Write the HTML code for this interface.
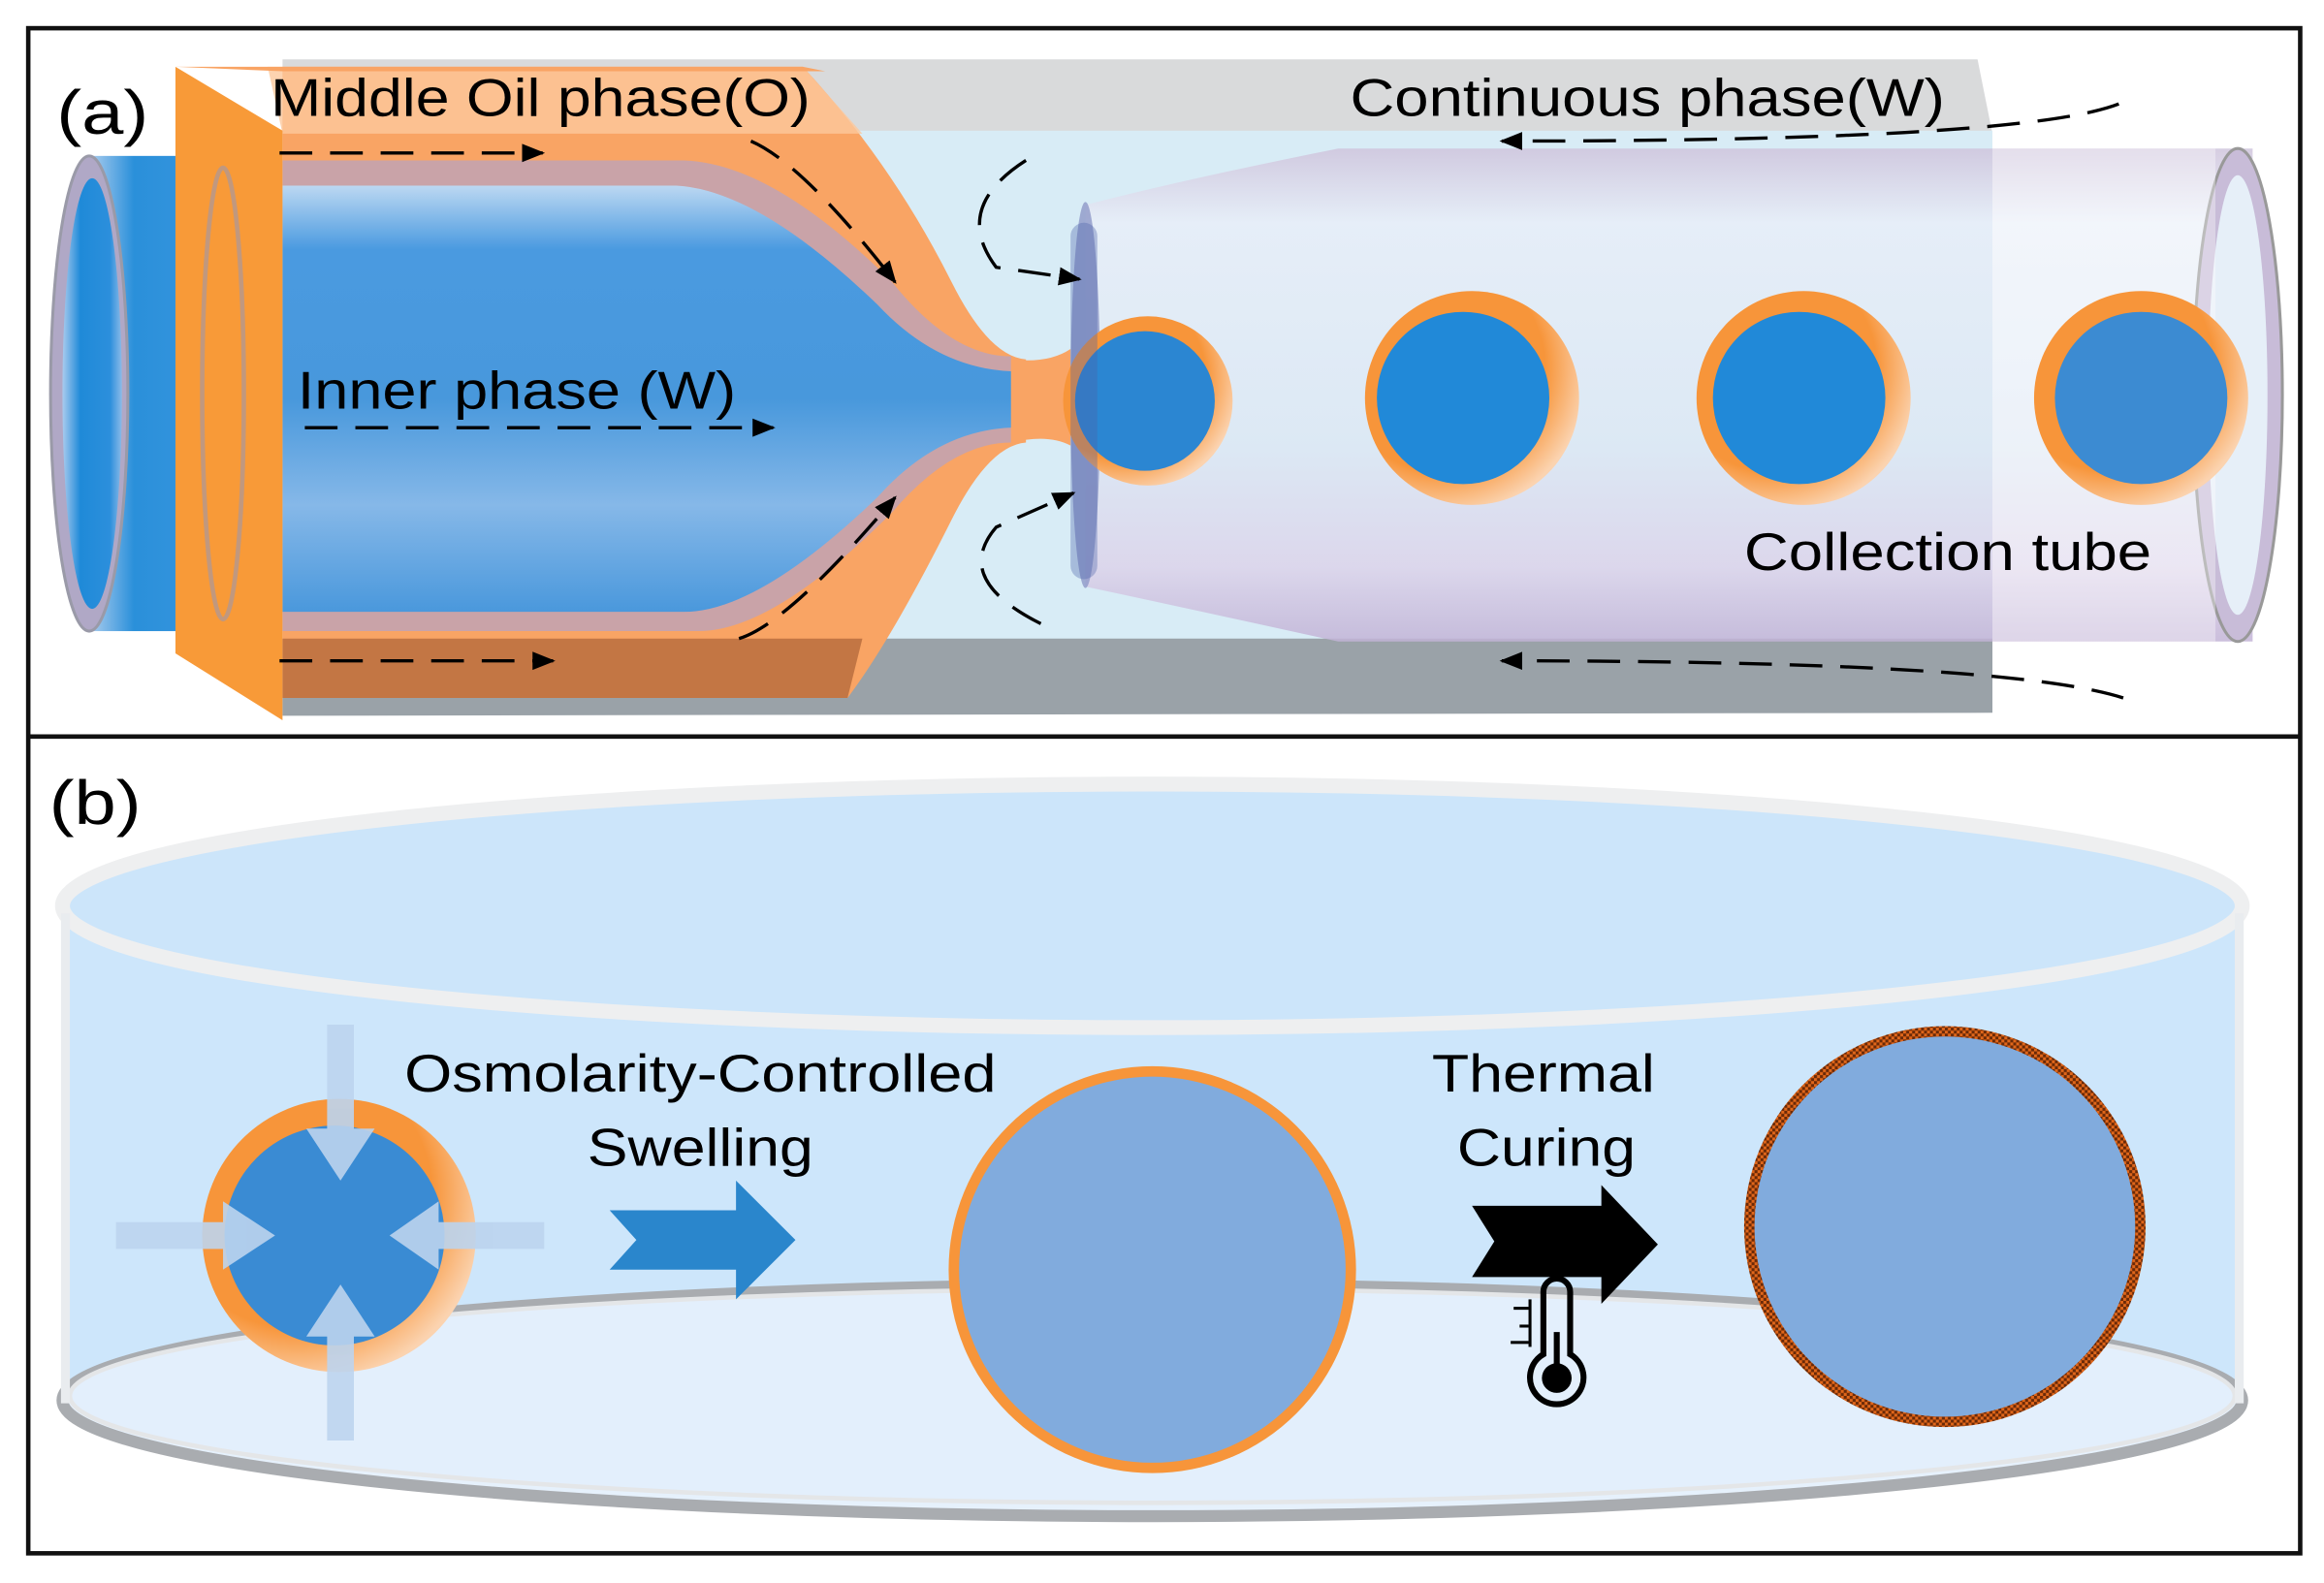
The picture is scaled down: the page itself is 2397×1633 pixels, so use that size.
<!DOCTYPE html>
<html><head><meta charset="utf-8"><style>
html,body{margin:0;padding:0;background:#fff;}
svg{display:block;}
text{font-family:"Liberation Sans",Arial,sans-serif;}
</style></head><body>
<svg width="2397" height="1633" viewBox="0 0 1563 1066" preserveAspectRatio="none" xmlns="http://www.w3.org/2000/svg">
<defs>
<linearGradient id="tubeV" x1="0" y1="0" x2="0" y2="1">
<stop offset="0" stop-color="#bcd8f2"/><stop offset="0.15" stop-color="#4a9ae0"/><stop offset="0.5" stop-color="#4898dc"/><stop offset="0.75" stop-color="#86b8e8"/><stop offset="1" stop-color="#4a98dc"/></linearGradient>
<linearGradient id="collV" x1="0" y1="0" x2="0" y2="1">
<stop offset="0" stop-color="#cfc4dc"/><stop offset="0.15" stop-color="#e8eef8"/><stop offset="0.6" stop-color="#dde8f4"/><stop offset="0.85" stop-color="#dcd3ea"/><stop offset="1" stop-color="#c2b3d6"/></linearGradient>
<linearGradient id="leftTube" x1="0" y1="0" x2="1" y2="0">
<stop offset="0" stop-color="#a9cbee"/><stop offset="0.3" stop-color="#1f8ad8"/><stop offset="0.8" stop-color="#2c8fdc"/><stop offset="1" stop-color="#8cbbe8"/></linearGradient>
<radialGradient id="drop" cx="0.35" cy="0.35" r="0.7"><stop offset="0.7" stop-color="#f7953a"/><stop offset="1" stop-color="#fbd3b0"/></radialGradient>
<pattern id="chk" width="4" height="4" patternUnits="userSpaceOnUse"><rect width="4" height="4" fill="#e0661a"/><rect width="2" height="2" fill="#6a2a08"/><rect x="2" y="2" width="2" height="2" fill="#6a2a08"/></pattern>
<marker id="ah" viewBox="0 0 10 10" refX="9" refY="5" markerWidth="7" markerHeight="7" orient="auto"><path d="M0,1 L10,5 L0,9 Z" fill="#000"/></marker>
</defs>
<rect x="0" y="0" width="1563" height="1066" fill="#fff"/>

<!-- Panel a -->
<polygon points="190,40 1330,40 1340,90 190,90" fill="#d9dadb"/>
<rect x="190" y="88" width="1150" height="344" fill="#d8ecf6"/>
<polygon points="190,430 1340,430 1340,480 190,482" fill="#9aa2a8"/>
<path d="M190,45 L540,45 Q600,110 640,190 Q665,240 690,242 L690,298 Q665,300 640,350 Q600,430 570,470 L190,470 Z" fill="#f9a464"/>
<path d="M190,430 L580,430 L570,470 L190,470 Z" fill="#b56a3c" opacity="0.8"/>
<polygon points="180,45 540,45 580,90 190,90" fill="#fcc89c" opacity="0.8"/>
<path d="M190,108 L460,108 Q520,110 600,190 Q640,240 680,240 L680,298 Q640,298 600,345 Q520,425 470,425 L190,425 Z" fill="#c9a3a8"/>
<path d="M190,125 L455,125 Q510,128 590,205 Q630,248 680,250 L680,288 Q630,290 590,335 Q510,412 460,412 L190,412 Z" fill="url(#tubeV)"/>
<rect x="60" y="105" width="100" height="320" fill="url(#leftTube)" opacity="0.95"/>
<ellipse cx="60" cy="265" rx="26" ry="160" fill="#b0a8c6" stroke="#9a9aa8" stroke-width="2"/>
<ellipse cx="62" cy="265" rx="20" ry="145" fill="url(#leftTube)"/>
<polygon points="118,45 190,88 190,485 118,440" fill="#f89a38"/>
<ellipse cx="150" cy="265" rx="14" ry="152" fill="none" stroke="#9c98ae" stroke-width="3" opacity="0.6"/>
<polygon points="118,45 540,45 555,48 190,48" fill="#f9a464"/>
<path d="M730,138 Q800,120 900,100 L1515,100 L1515,432 L900,432 Q800,410 730,395 Z" fill="url(#collV)" opacity="0.85"/>
<ellipse cx="730" cy="266" rx="10" ry="130" fill="#8e98c8" opacity="0.8"/>
<ellipse cx="1505" cy="266" rx="30" ry="166" fill="#c8bcd8" stroke="#999" stroke-width="2"/>
<ellipse cx="1505" cy="266" rx="20" ry="148" fill="#e6eff8"/>
<rect x="1340" y="100" width="150" height="332" fill="#fff" opacity="0.35"/>
<path d="M680,242 Q705,245 720,235 L720,300 Q705,292 680,298 Z" fill="#f9a464"/>
<circle cx="772" cy="270" r="57" fill="url(#drop)"/>
<circle cx="770" cy="270" r="47" fill="#2b86d2"/>
<rect x="720" y="150" width="18" height="240" fill="#4a60a8" opacity="0.35" rx="9"/>
<circle cx="990" cy="268" r="72" fill="url(#drop)"/>
<circle cx="984" cy="268" r="58" fill="#2189d8"/>
<circle cx="1213" cy="268" r="72" fill="url(#drop)"/>
<circle cx="1210" cy="268" r="58" fill="#2189d8"/>
<circle cx="1440" cy="268" r="72" fill="url(#drop)"/>
<circle cx="1440" cy="268" r="58" fill="#3c8bd2"/>
<g fill="none" stroke="#000" stroke-width="2.2" stroke-dasharray="22,12">
<path d="M188,103 L365,103" marker-end="url(#ah)"/>
<path d="M188,445 L372,445" marker-end="url(#ah)"/>
<path d="M205,288 L520,288" marker-end="url(#ah)"/>
<path d="M505,95 Q540,110 602,190" marker-end="url(#ah)"/>
<path d="M497,430 Q530,420 602,335" marker-end="url(#ah)"/>
<path d="M690,108 Q640,140 670,180 L726,188" marker-end="url(#ah)"/>
<path d="M700,420 Q640,390 670,355 L722,332" marker-end="url(#ah)"/>
<path d="M1425,70 Q1360,95 1010,95" marker-end="url(#ah)"/>
<path d="M1428,470 Q1350,445 1010,445" marker-end="url(#ah)"/>
</g>
<text x="38" y="90" font-size="42" textLength="62" lengthAdjust="spacingAndGlyphs">(a)</text>
<text x="182" y="78" font-size="36" textLength="363" lengthAdjust="spacingAndGlyphs">Middle Oil phase(O)</text>
<text x="908" y="78" font-size="36" textLength="400" lengthAdjust="spacingAndGlyphs">Continuous phase(W)</text>
<text x="200" y="275" font-size="36" textLength="295" lengthAdjust="spacingAndGlyphs">Inner phase (W)</text>
<text x="1173" y="384" font-size="36" textLength="274" lengthAdjust="spacingAndGlyphs">Collection tube</text>

<!-- Panel b -->
<rect x="42" y="610" width="1466" height="340" fill="#cde6fb"/>
<ellipse cx="775" cy="943" rx="733" ry="78" fill="#e6f1fc" stroke="#a9acb0" stroke-width="8"/>
<ellipse cx="775" cy="940" rx="728" ry="72" fill="#e3effc" stroke="#e4e6e8" stroke-width="3"/>
<ellipse cx="775" cy="610" rx="733" ry="82" fill="#cce5fa" stroke="#eeeff0" stroke-width="10"/>
<line x1="44" y1="615" x2="44" y2="945" stroke="#e9ecef" stroke-width="6"/>
<line x1="1506" y1="615" x2="1506" y2="945" stroke="#e9ecef" stroke-width="6"/>

<circle cx="228" cy="832" r="92" fill="url(#drop)"/>
<circle cx="225" cy="832" r="74" fill="#3a8bd3"/>
<g fill="#bcd4ee" opacity="0.9">
<polygon points="220,690 238,690 238,760 252,760 229,795 206,760 220,760"/>
<polygon points="220,970 238,970 238,900 252,900 229,865 206,900 220,900"/>
<polygon points="78,823 78,841 150,841 150,855 185,832 150,809 150,823"/>
<polygon points="366,823 366,841 295,841 295,855 262,832 295,809 295,823"/>
</g>
<polygon points="410,815 495,815 495,795 535,835 495,875 495,855 410,855 428,835" fill="#2a86cc"/>
<text x="272" y="735" font-size="36" textLength="398" lengthAdjust="spacingAndGlyphs">Osmolarity-Controlled</text>
<text x="395" y="785" font-size="36" textLength="152" lengthAdjust="spacingAndGlyphs">Swelling</text>
<circle cx="775" cy="855" r="137" fill="#f7953a"/>
<circle cx="775" cy="855" r="130" fill="#81abdd"/>
<polygon points="990,812 1077,812 1077,798 1115,838 1077,878 1077,860 990,860 1005,836" fill="#000"/>
<text x="963" y="735" font-size="36" textLength="150" lengthAdjust="spacingAndGlyphs">Thermal</text>
<text x="980" y="785" font-size="36" textLength="120" lengthAdjust="spacingAndGlyphs">Curing</text>
<g>
<path d="M1038,870 a9,9 0 0 1 18,0 L1056,912 a18,18 0 1 1 -18,0 Z" fill="none" stroke="#000" stroke-width="4"/>
<circle cx="1047" cy="928" r="10" fill="#000"/>
<rect x="1045" y="897" width="4" height="25" fill="#000"/>
<rect x="1028" y="875" width="2" height="32" fill="#000"/>
<rect x="1016" y="903" width="12" height="2" fill="#000"/>
<rect x="1022" y="892" width="6" height="2" fill="#000"/>
<rect x="1018" y="880" width="10" height="2" fill="#000"/>
</g>
<circle cx="1308" cy="826" r="135" fill="url(#chk)"/>
<circle cx="1308" cy="826" r="128" fill="#81abdd"/>
<text x="33" y="555" font-size="42" textLength="62" lengthAdjust="spacingAndGlyphs">(b)</text>

<rect x="19" y="19" width="1528" height="1027" fill="none" stroke="#111" stroke-width="3"/>
<line x1="19" y1="496" x2="1547" y2="496" stroke="#111" stroke-width="3"/>
</svg>
</body></html>
